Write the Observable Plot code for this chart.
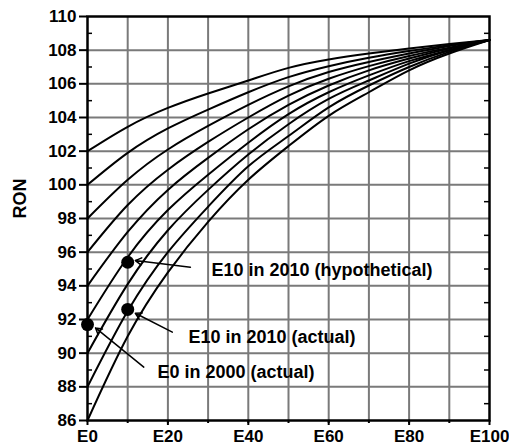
<!DOCTYPE html>
<html>
<head>
<meta charset="utf-8">
<script src="https://cdn.jsdelivr.net/npm/d3@7"></script>
<script src="https://cdn.jsdelivr.net/npm/@observablehq/plot@0.6"></script>
<style>
  html, body { margin: 0; padding: 0; background: #fff; }
  #chart svg { display: block; }
</style>
</head>
<body>
<div id="chart"></div>
<script>
// Ethanol blend level (vol %), shown as E0 ... E100
const blend = [0, 10, 20, 30, 40, 50, 60, 70, 80, 90, 100];

// RON of the blend, one curve per base-gasoline octane
const ron86  = [86,  91.0, 94.8, 97.8, 100.3, 102.3, 104.1, 105.5, 106.8, 107.8, 108.6];
const ron88  = [88,  92.5, 96.0, 98.7, 101.1, 102.9, 104.6, 105.9, 107.0, 107.9, 108.6];
const ron90  = [90,  94.1, 97.3, 99.7, 101.8, 103.6, 105.1, 106.2, 107.2, 108.0, 108.6];
const ron92  = [92,  95.7, 98.5, 100.6, 102.5, 104.2, 105.5, 106.5, 107.35, 108.0, 108.6];
const ron94  = [94,  97.2, 99.7, 101.6, 103.3, 104.75, 105.9, 106.8, 107.5, 108.1, 108.6];
const ron96  = [96,  98.8, 100.9, 102.55, 104.0, 105.3, 106.3, 107.05, 107.65, 108.15, 108.6];
const ron98  = [98, 100.3, 102.1, 103.5, 104.75, 105.85, 106.7, 107.3, 107.8, 108.25, 108.6];
const ron100 = [100, 101.9, 103.35, 104.47, 105.5, 106.4, 107.05, 107.55, 107.95, 108.3, 108.6];
const ron102 = [102, 103.45, 104.57, 105.43, 106.2, 106.95, 107.45, 107.8, 108.1, 108.37, 108.6];

const baseRON = [86, 88, 90, 92, 94, 96, 98, 100, 102];
const curves  = [ron86, ron88, ron90, ron92, ron94, ron96, ron98, ron100, ron102];

// Marked points
const pointLabel = ["E0 in 2000 (actual)", "E10 in 2010 (hypothetical)", "E10 in 2010 (actual)"];
const pointBlend = [0, 10, 10];
const pointRON   = [91.7, 95.4, 92.6];

// Annotation text anchors and leader lines (data units)
const noteBlend  = [17.4, 30.85, 25.1];
const noteRON    = [88.88, 94.91, 90.93];
const leadFromX  = [14.0, 25.6, 21.1];
const leadFromY  = [89.17, 95.11, 91.25];
const leadToX    = [2.0, 11.9, 11.9];
const leadToY    = [91.5, 95.5, 92.37];

// Ticks
const xTicks = [0, 20, 40, 60, 80, 100];
const xGrid  = [10, 20, 30, 40, 50, 60, 70, 80, 90];
const yTicks = [86, 88, 90, 92, 94, 96, 98, 100, 102, 104, 106, 108, 110];
const yGrid  = [88, 90, 92, 94, 96, 98, 100, 102, 104, 106, 108];
const yMinor = [87, 89, 91, 93, 95, 97, 99, 101, 103, 105, 107, 109];
const yLabel = "RON";

// ---- build tables ----
const rows = curves.flatMap((vals, k) =>
  blend.map((b, i) => ({ blend: b, ron: vals[i], base: baseRON[k] })));
const points = pointLabel.map((l, i) => ({ label: l, blend: pointBlend[i], ron: pointRON[i] }));
const notes = pointLabel.map((l, i) => ({
  label: l, x: noteBlend[i], y: noteRON[i],
  x1: leadFromX[i], y1: leadFromY[i], x2: leadToX[i], y2: leadToY[i]
}));

const W = 509, H = 447, ML = 87, MR = 20, MT = 16, MB = 27;
const plotW = W - ML - MR;
const font = "'Liberation Sans', Arial, Helvetica, sans-serif";

const chart = Plot.plot({
  width: W, height: H,
  marginLeft: ML, marginRight: MR, marginTop: MT, marginBottom: MB,
  style: { fontFamily: font, fontWeight: "bold", fontSize: "17px", color: "#000", background: "#fff" },
  x: { domain: [0, 100] },
  y: { domain: [86, 110] },
  marks: [
    Plot.gridX(xGrid, { stroke: "#7a7a7a", strokeWidth: 2, strokeOpacity: 1 }),
    Plot.gridY(yGrid, { stroke: "#7a7a7a", strokeWidth: 2, strokeOpacity: 1 }),
    Plot.tickY(yMinor, { y: d => d, insetRight: plotW - 5, stroke: "#000", strokeWidth: 1.5 }),
    Plot.tickY(yMinor, { y: d => d, insetLeft: plotW - 5, stroke: "#000", strokeWidth: 1.5 }),
    Plot.line(rows, { x: "blend", y: "ron", z: "base", stroke: "#000", strokeWidth: 2, curve: "natural" }),
    Plot.frame({ stroke: "#000", strokeWidth: 2.5 }),
    Plot.axisY(yTicks, { tickSize: 8, tickPadding: 3, strokeWidth: 2, fontSize: 17, label: null }),
    Plot.axisX(xGrid, { tickSize: 3, strokeWidth: 2, text: null, label: null }),
    Plot.axisX(xTicks, { tickSize: 5, tickPadding: 4, strokeWidth: 2, fontSize: 17, tickFormat: d => "E" + d, label: null }),
    Plot.text([yLabel], { frameAnchor: "left", dx: -67, rotate: -90, text: d => d, fontSize: 18, fontWeight: "bold" }),
    Plot.arrow(notes, { x1: "x1", y1: "y1", x2: "x2", y2: "y2", stroke: "#000", strokeWidth: 1.5, headLength: 7 }),
    Plot.dot(points, { x: "blend", y: "ron", r: 6.5, fill: "#000", stroke: "none" }),
    Plot.text(notes, { x: "x", y: "y", text: "label", textAnchor: "start", fontSize: 18, fontWeight: "bold", fill: "#000" })
  ]
});

document.getElementById("chart").appendChild(chart);
</script>
</body>
</html>
